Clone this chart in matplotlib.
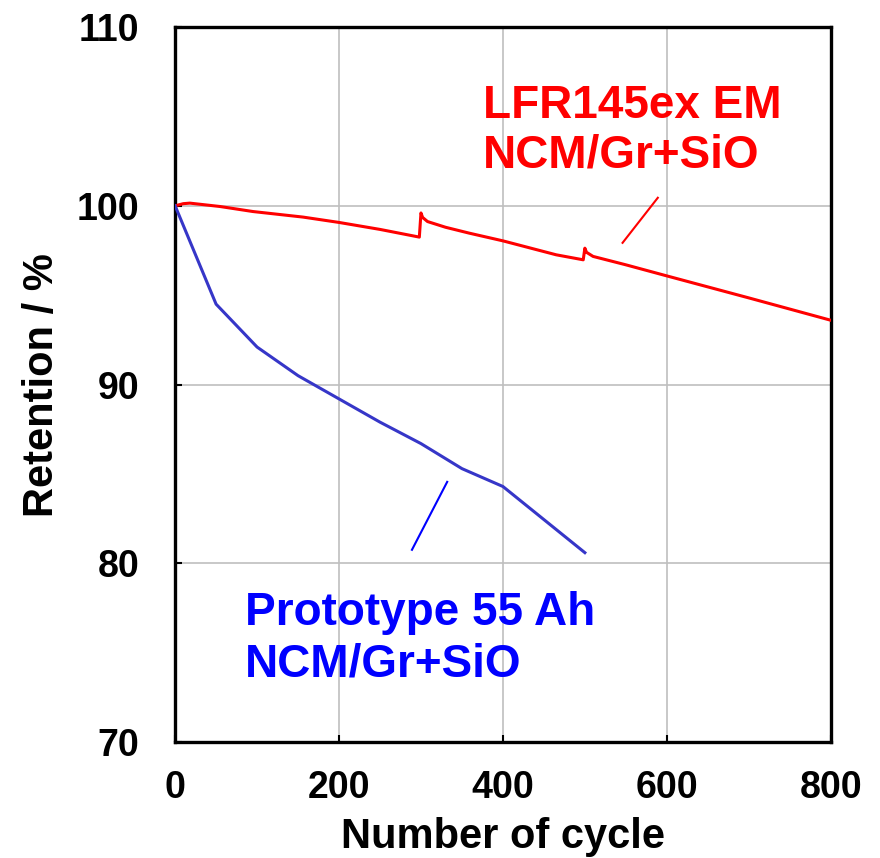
import matplotlib
matplotlib.use('Agg')
import matplotlib.pyplot as plt

plt.rcParams['font.family'] = ['Liberation Sans', 'DejaVu Sans']
plt.rcParams['font.weight'] = 'bold'

# LFR145ex EM (red)
lfr_cycle = [0, 10, 18, 55, 95, 156, 200, 250, 298, 300, 302, 308, 330, 359, 400,
             450, 465, 498, 500, 502, 510, 550, 600, 700, 800]
lfr_ret = [100.0, 100.12, 100.15, 99.96, 99.68, 99.37, 99.07, 98.68, 98.25, 99.6,
           99.35, 99.12, 98.8, 98.47, 98.04, 97.44, 97.26, 96.98, 97.63, 97.4,
           97.17, 96.7, 96.08, 94.85, 93.6]

# Prototype 55 Ah (blue)
proto_cycle = [0, 50, 100, 150, 200, 250, 300, 350, 400, 500]
proto_ret = [100.0, 94.5, 92.1, 90.5, 89.2, 87.9, 86.7, 85.3, 84.3, 80.6]

xticks = [0, 200, 400, 600, 800]
yticks = [70, 80, 90, 100, 110]

fig = plt.figure(figsize=(8.8, 8.58), dpi=100)
ax = fig.add_axes([0.199, 0.135, 0.745, 0.8335])

ax.plot(lfr_cycle, lfr_ret, color='#ff0000', lw=2.2, zorder=3)
ax.plot(proto_cycle, proto_ret, color='#3636c8', lw=2.2, zorder=3)

# leader lines
ax.plot([546, 589], [97.93, 100.45], color='#ff0000', lw=1.5)
ax.plot([289, 332], [80.76, 84.56], color='#0000ff', lw=1.5)

red_lines = ['LFR145ex EM', 'NCM/Gr+SiO']
for i, s in enumerate(red_lines):
    ax.text(375.6, 104.92 - i * 2.8, s, color='#ff0000', fontsize=33,
            fontweight='bold', ha='left', va='baseline')
blue_lines = ['Prototype 55 Ah', 'NCM/Gr+SiO']
for i, s in enumerate(blue_lines):
    ax.text(85.4, 76.57 - i * 2.9, s, color='#0000ff', fontsize=33,
            fontweight='bold', ha='left', va='baseline')

ax.set_xlim(0, 800)
ax.set_ylim(70, 110)
ax.set_xticks(xticks)
ax.set_yticks(yticks)
ax.grid(True, color='#bfbfbf', lw=1.2)
ax.set_axisbelow(True)
ax.tick_params(direction='in', length=5, width=1.5, labelsize=27)
ax.tick_params(axis='x', pad=20)
ax.tick_params(axis='y', pad=26)
for sp in ax.spines.values():
    sp.set_linewidth(2.4)
    sp.set_color('black')

ax.set_xlabel('Number of cycle', fontsize=30, fontweight='bold', labelpad=8)
ax.set_ylabel('Retention / %', fontsize=30, fontweight='bold', labelpad=10)

fig.savefig('out.png', dpi=100)
